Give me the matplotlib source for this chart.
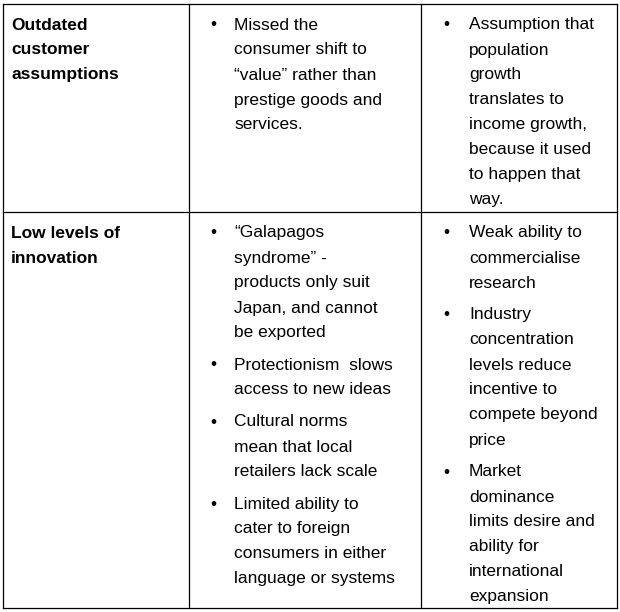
import matplotlib.pyplot as plt
from matplotlib.lines import Line2D

W, H = 620, 612

row_heads = [["Outdated", "customer", "assumptions"], ["Low levels of", "innovation"]]
col2 = [
    [["Missed the", "consumer shift to", "\u201cvalue\u201d rather than", "prestige goods and", "services."]],
    [["\u201cGalapagos", "syndrome\u201d -", "products only suit", "Japan, and cannot", "be exported"],
     ["Protectionism  slows", "access to new ideas"],
     ["Cultural norms", "mean that local", "retailers lack scale"],
     ["Limited ability to", "cater to foreign", "consumers in either", "language or systems"]],
]
col3 = [
    [["Assumption that", "population", "growth", "translates to", "income growth,", "because it used", "to happen that", "way."]],
    [["Weak ability to", "commercialise", "research"],
     ["Industry", "concentration", "levels reduce", "incentive to", "compete beyond", "price"],
     ["Market", "dominance", "limits desire and", "ability for", "international", "expansion"]],
]

row_top = [25, 233]
line_h = 25
bullet_gap = 7

fig = plt.figure(figsize=(6.2, 6.12), dpi=100)
fig.patch.set_facecolor("white")


def px(x, y):
    return x / W, 1 - y / H


def put(x, y, s, **kw):
    fx, fy = px(x, y)
    fig.text(fx, fy, s, va="center", ha="left", fontsize=12.5,
             family="Liberation Sans", color="black", **kw)


def hline(y, x0, x1):
    fig.add_artist(Line2D([x0 / W, x1 / W], [1 - y / H] * 2, color="black", lw=0.9))


def vline(x, y0, y1):
    fig.add_artist(Line2D([x / W] * 2, [1 - y0 / H, 1 - y1 / H], color="black", lw=0.9))


# grid
for y in [4, 212, 608]:
    hline(y, 3, 617)
for x in [3, 189, 421, 617]:
    vline(x, 4, 608)

for r in range(2):
    y = row_top[r]
    for i, s in enumerate(row_heads[r]):
        put(11, y + i * line_h, s, weight="bold")
    for col, bx, tx in [(col2, 210, 234), (col3, 443, 469)]:
        y = row_top[r]
        for bullet in col[r]:
            put(bx, y, "\u2022")
            for s in bullet:
                put(tx, y, s)
                y += line_h
            y += bullet_gap

fig.savefig("out.png", dpi=100, facecolor="white")
